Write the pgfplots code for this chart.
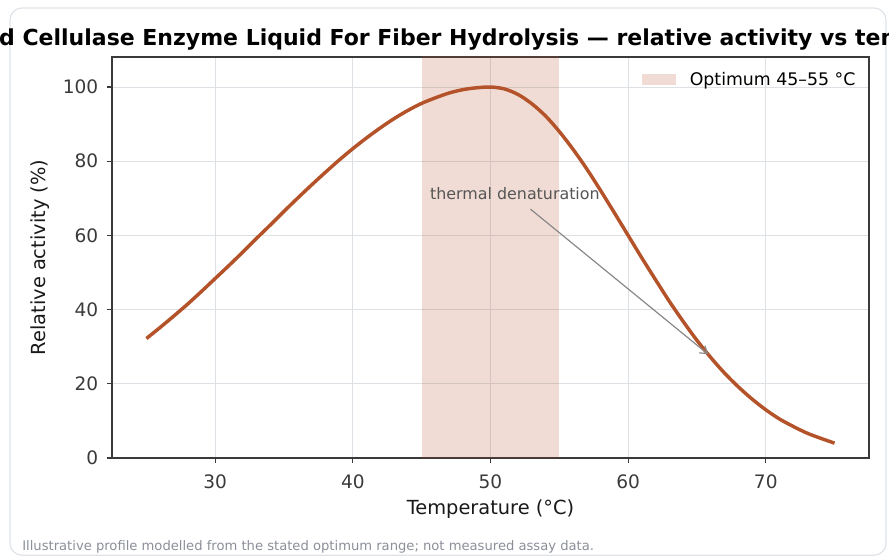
\documentclass[border=0pt]{standalone}
\usepackage{fontspec}
\setmainfont{DejaVu Sans}
\usepackage{pgfplots}
\pgfplotsset{compat=1.18}
\usetikzlibrary{arrows.meta}
\definecolor{curve}{HTML}{B4522A}
\definecolor{gridc}{HTML}{DDE1E6}
\definecolor{spine}{HTML}{3A3A3A}
\definecolor{framec}{HTML}{DFE3E8}
\definecolor{annot}{HTML}{555555}
\definecolor{arrowc}{HTML}{888888}
\definecolor{footc}{HTML}{8A8F98}
\begin{document}
\begin{tikzpicture}
\useasboundingbox (0pt,0pt) rectangle (666.75pt,417pt);
\clip (0pt,0pt) rectangle (666.75pt,417pt);
\draw[framec, line width=0.9pt, rounded corners=9pt] (7.5pt,0.6pt) rectangle (664.5pt,411pt);
\begin{axis}[
  at={(84pt,73.5pt)}, anchor=south west,
  scale only axis, width=567.75pt, height=300.75pt,
  xmin=22.5, xmax=77.5, ymin=0, ymax=108.1,
  xtick={30,40,50,60,70}, ytick={0,20,40,60,80,100},
  xtick pos=lower, ytick pos=left,
  tick align=outside, major tick length=3.75pt,
  tick style={spine, line width=0.9pt},
  axis line style={spine, line width=0.9pt},
  grid=major, major grid style={gridc, line width=0.8pt},
  /pgf/number format/assume math mode=true,
  ticklabel style={font=\fontsize{13.9}{16}\selectfont, text=spine},
  xticklabel style={yshift=-5pt},
  yticklabel style={xshift=-3pt},
  xlabel={Temperature (°C)}, ylabel={Relative activity (\%)},
  label style={font=\fontsize{14.55}{17}\selectfont, text=black!90},
  xlabel style={at={(axis description cs:0.5,-0.1272)}, anchor=center},
  ylabel style={at={(axis description cs:-0.0951,0.5)}, anchor=center},
  legend style={at={(1,1)}, anchor=north east, draw=none, fill=none,
    font=\fontsize{13}{15}\selectfont, xshift=-5pt, yshift=-7pt,
    legend cell align=left},
  legend image code/.code={\fill[curve, fill opacity=0.2] (0pt,-4pt) rectangle (25.5pt,4.25pt);},
]
\addplot[draw=none, fill=curve, fill opacity=0.2] coordinates {(45,-5) (45,120) (55,120) (55,-5)} -- cycle;
\addlegendentry{\hspace{8pt}Optimum 45–55 °C}
\addplot[curve, line width=2.6pt, smooth, forget plot] coordinates {
(25,32.2) (26,35.2) (27,38.3) (28,41.5) (29,44.9) (30,48.4) (31,51.9) (32,55.5)
(33,59.2) (34,62.8) (35,66.5) (36,70.1) (37,73.6) (38,77.0) (39,80.3) (40,83.4)
(41,86.3) (42,89.0) (43,91.5) (44,93.7) (45,95.6) (46,97.1) (47,98.4) (48,99.3)
(49,99.8) (50,100.0) (51,99.5) (52,98.0) (53,95.5) (54,92.2) (55,88.0) (56,83.2)
(57,77.9) (58,72.1) (59,66.1) (60,60.0) (61,53.9) (62,48.0) (63,42.2) (64,36.8)
(65,31.7) (66,27.1) (67,22.9) (68,19.2) (69,15.9) (70,13.0) (71,10.5) (72,8.5)
(73,6.7) (74,5.3) (75,4.0)
};
\draw[arrowc, line width=0.9pt, -{Straight Barb[length=5pt,width=7pt]}] (axis cs:52.9,67.1) -- (axis cs:65.8,28.0);
\node[anchor=west, inner sep=0pt, text=annot, font=\fontsize{11.9}{14}\selectfont] at (axis cs:45.6,71.4) {thermal denaturation};
\end{axis}
\node[anchor=base, font=\fontsize{16.5}{19}\selectfont\bfseries, inner sep=0pt] at (365pt,382.5pt) {Acid Cellulase Enzyme Liquid For Fiber Hydrolysis — relative activity vs temperature};
\node[anchor=base west, inner sep=0pt, text=footc, font=\fontsize{9.85}{12}\selectfont] at (16.5pt,3.9pt) {Illustrative profile modelled from the stated optimum range; not measured assay data.};
\end{tikzpicture}
\end{document}
